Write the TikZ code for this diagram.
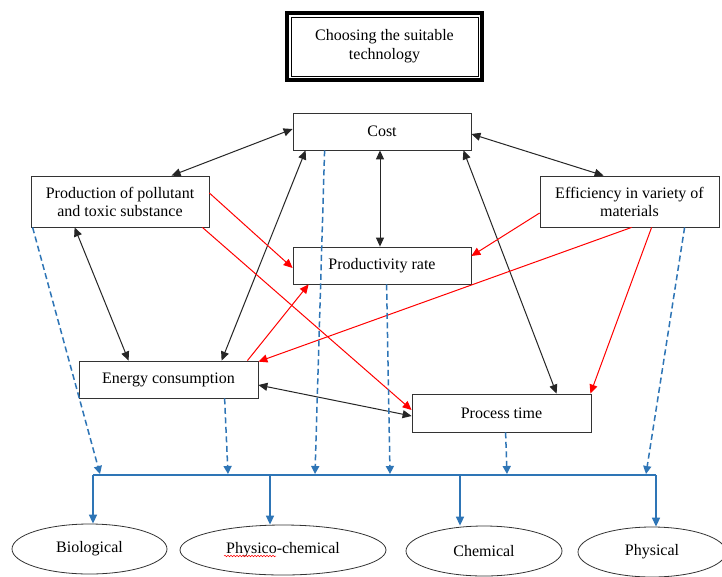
\documentclass[tikz,border=0pt]{standalone}
\usepackage{fontspec}
\setmainfont{Liberation Serif}
\usetikzlibrary{arrows.meta,shapes.geometric,decorations.pathmorphing}
\definecolor{wblue}{RGB}{46,117,182}
\begin{document}
\begin{tikzpicture}[x=1pt,y=-1pt,
  font=\fontsize{16}{18}\selectfont,
  box/.style={draw=black!80, line width=0.8pt, rectangle, inner sep=0pt, align=center},
  blk/.style={{Triangle[width=8pt,length=9pt]}-{Triangle[width=8pt,length=9pt]}, line width=1pt, black!85},
  redarr/.style={-{Triangle[width=8pt,length=9pt]}, line width=1pt, red},
  dsh/.style={-{Triangle[width=8pt,length=8pt]}, line width=1.5pt, wblue, dash pattern=on 6pt off 3.5pt},
  bus/.style={line width=2pt, wblue},
  drop/.style={-{Triangle[width=8pt,length=9pt]}, line width=1.5pt, wblue},
  oval/.style={ellipse, draw=black!80, line width=0.8pt, inner sep=0pt}]
\fill[white] (0,0) rectangle (722,576);
\useasboundingbox (0,0) rectangle (722,576);

% title
\node[draw, line width=4pt, outer sep=0pt, minimum width=195pt, minimum height=67pt, align=center,
      font=\fontsize{16}{19}\selectfont] (title) at (384.5,46.5) {Choosing the suitable\\technology};
\draw[line width=0.9pt] ([shift={(4pt,-4pt)}]title.north west) rectangle ([shift={(-4pt,4pt)}]title.south east);

% boxes
\node[box, minimum width=178pt, minimum height=37pt] (cost) at (382,131.5) {Cost};
\node[box, minimum width=178pt, minimum height=51pt] (poll) at (120,201.5) {Production of pollutant\\and toxic substance};
\node[box, minimum width=179pt, minimum height=51pt] (eff) at (629.5,201.5) {Efficiency in variety of\\materials};
\node[box, minimum width=178pt, minimum height=37pt] (prodr) at (382,265.5) {Productivity rate};
\node[box, minimum width=179pt, minimum height=37pt] (energy) at (168.5,379.5) {Energy consumption};
\node[box, minimum width=179pt, minimum height=38pt] (ptime) at (501.5,413) {Process time};

% ellipses
\node[oval, minimum width=155pt, minimum height=50pt] (bio) at (89.5,549) {Biological};
\node[oval, minimum width=206pt, minimum height=50pt] (phys) at (283,550) {Physico-chemical};
\node[oval, minimum width=156pt, minimum height=50pt] (chem) at (484,551) {Chemical};
\node[oval, minimum width=148pt, minimum height=50pt] (physical) at (652,552) {Physical};
\draw[red, line width=0.5pt, decorate, decoration={snake, amplitude=0.8pt, segment length=3pt}]
  ([shift={(-59pt,-6pt)}]phys.center) -- ([shift={(-7pt,-6pt)}]phys.center);

% black double arrows
\draw[blk] ([xshift=141pt]poll.north west) -- ([yshift=2.5pt]cost.west);
\draw[blk] ([yshift=-2.5pt]cost.east) -- ([xshift=64pt]eff.north west);
\draw[blk] ([xshift=-2pt]cost.south) -- ([xshift=-2pt]prodr.north);
\draw[blk] ([xshift=13pt]cost.south west) -- ([xshift=143pt]energy.north west);
\draw[blk] ([xshift=44pt]poll.south west) -- ([xshift=50pt]energy.north west);
\draw[blk] ([xshift=-8pt]cost.south east) -- ([xshift=145pt]ptime.north west);
\draw[blk] ([yshift=-5.5pt]energy.east) -- ([yshift=-3pt]ptime.west);

% red arrows
\draw[redarr] ([yshift=8.5pt]poll.east) -- ([yshift=-2.5pt]prodr.west);
\draw[redarr] ([xshift=-7pt]poll.south east) -- ([yshift=3pt]ptime.west);
\draw[redarr] ([xshift=-11pt]energy.north east) -- ([xshift=16pt]prodr.south west);
\draw[redarr] ([yshift=-11.5pt]eff.west) -- ([yshift=9.5pt]prodr.east);
\draw[redarr] ([xshift=92pt]eff.south west) -- ([yshift=-1pt]energy.north east);
\draw[redarr] ([xshift=112pt]eff.south west) -- ([xshift=-1pt]ptime.north east);

% bus
\coordinate (bl) at (93,475);
\coordinate (br) at (656,475);
\coordinate (d1) at (100,474);
\coordinate (d2) at (228,474);
\coordinate (d3) at (315,474);
\coordinate (d4) at (390,474);
\coordinate (d5) at (507,474);
\coordinate (d6) at (646,474);
\coordinate (t2) at (270,475);
\coordinate (t3) at (460,475);

\draw[dsh] ([xshift=2pt]poll.south west) -- (d1);
\draw[dsh] ([xshift=146pt]energy.south west) -- (d2);
\draw[dsh] ([xshift=32pt]cost.south west) -- (d3);
\draw[dsh] ([xshift=94pt]prodr.south west) -- (d4);
\draw[dsh] ([xshift=94pt]ptime.south west) -- (d5);
\draw[dsh] ([xshift=145pt]eff.south west) -- (d6);

\draw[bus] (bl) -- (br);
\draw[drop] (bl) -- (bio.north -| bl);
\draw[drop] (t2) -- (phys.north -| t2);
\draw[drop] (t3) -- (chem.north -| t3);
\draw[drop] (br) -- (physical.north -| br);
\end{tikzpicture}
\end{document}
